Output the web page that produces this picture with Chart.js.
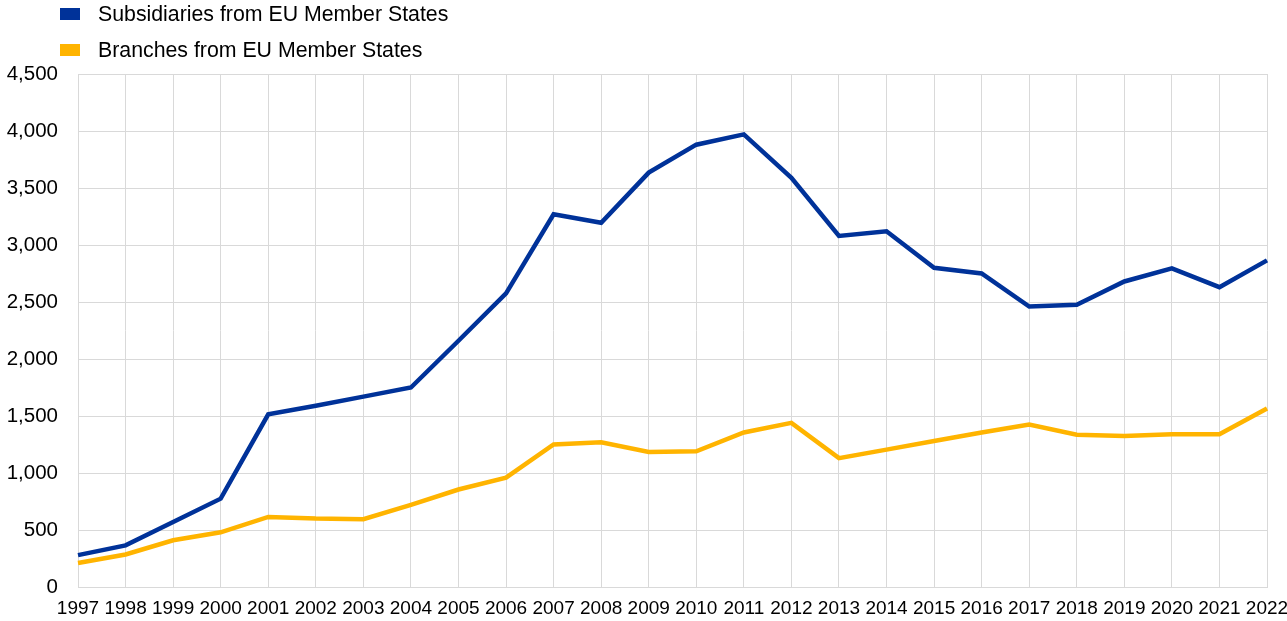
<!DOCTYPE html>
<html>
<head>
<meta charset="utf-8">
<script src="https://cdn.jsdelivr.net/npm/chart.js@4.4.0/dist/chart.umd.min.js"></script>
<style>
    html, body { margin: 0; padding: 0; background: #ffffff; }
    #wrap { position: relative; width: 1287px; height: 621px; overflow: hidden; }
    #legend { position: absolute; left: 60px; top: 0; font-family: Arial, "Liberation Sans", sans-serif; font-size: 21.3px; color: #000; }
    .leg-item { position: absolute; left: 0; white-space: nowrap; display: flex; align-items: center; height: 28px; }
    .leg-box { width: 20px; height: 12px; margin-right: 18px; }
</style>
</head>
<body>
<div id="wrap">
    <canvas id="chart" width="1287" height="621"></canvas>
    <div id="legend"></div>
</div>
<script>
// Data
const years = ['1997', '1998', '1999', '2000', '2001', '2002', '2003', '2004', '2005', '2006', '2007', '2008', '2009',
    '2010', '2011', '2012', '2013', '2014', '2015', '2016', '2017', '2018', '2019', '2020', '2021', '2022'];
const subsidiaries = [280, 365, 570, 775, 1515, 1590, 1670, 1750, 2160, 2575, 3270, 3195, 3635,
    3880, 3970, 3590, 3080, 3120, 2800, 2750, 2460, 2475, 2680, 2795, 2630, 2865];
const branches = [210, 285, 410, 480, 615, 600, 595, 720, 855, 960, 1250, 1270, 1185,
    1190, 1355, 1440, 1130, 1205, 1280, 1355, 1425, 1335, 1325, 1340, 1340, 1565];
const seriesLabels = ['Subsidiaries from EU Member States', 'Branches from EU Member States'];
const seriesColors = ['#003299', '#ffb400'];

const gridColor = '#d9d9d9';
const fontFamily = 'Arial, "Liberation Sans", sans-serif';

// Build legend as real text
const legendEl = document.getElementById('legend');
seriesLabels.forEach((label, i) => {
    const item = document.createElement('div');
    item.className = 'leg-item';
    item.style.top = (i * 36) + 'px';
    const box = document.createElement('span');
    box.className = 'leg-box';
    box.style.background = seriesColors[i];
    const txt = document.createElement('span');
    txt.textContent = label;
    item.appendChild(box);
    item.appendChild(txt);
    legendEl.appendChild(item);
});

const ctx = document.getElementById('chart').getContext('2d');
new Chart(ctx, {
    type: 'line',
    data: {
        labels: years,
        datasets: [
            {
                label: seriesLabels[0],
                data: subsidiaries,
                borderColor: seriesColors[0],
                backgroundColor: seriesColors[0],
                borderWidth: 4.5,
                pointRadius: 0,
                tension: 0,
                fill: false
            },
            {
                label: seriesLabels[1],
                data: branches,
                borderColor: seriesColors[1],
                backgroundColor: seriesColors[1],
                borderWidth: 4.5,
                pointRadius: 0,
                tension: 0,
                fill: false
            }
        ]
    },
    options: {
        responsive: false,
        animation: false,
        layout: {
            padding: { top: 74, left: 7, right: 0, bottom: 0 }
        },
        plugins: {
            legend: { display: false },
            tooltip: { enabled: false }
        },
        scales: {
            x: {
                offset: false,
                grid: { color: gridColor, lineWidth: 1, drawTicks: false },
                border: { color: gridColor },
                afterFit: (scale) => {
                    scale.paddingLeft = 0;
                    scale.paddingRight = 20;
                    scale.height = 34;
                },
                ticks: {
                    color: '#000',
                    padding: 10,
                    maxRotation: 0,
                    autoSkip: false,
                    font: { family: fontFamily, size: 19 }
                }
            },
            y: {
                min: 0,
                max: 4500,
                grid: { color: gridColor, lineWidth: 1, drawTicks: false },
                border: { color: gridColor },
                afterFit: (scale) => {
                    scale.width = 71;
                },
                ticks: {
                    stepSize: 500,
                    color: '#000',
                    padding: 20,
                    font: { family: fontFamily, size: 20.5 },
                    callback: (v) => v.toLocaleString('en-US')
                }
            }
        }
    }
});
</script>
</body>
</html>
